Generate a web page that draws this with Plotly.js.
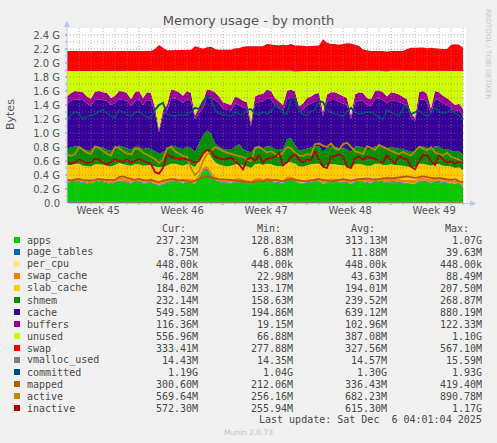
<!DOCTYPE html>
<html><head><meta charset="utf-8">
<script src="https://cdn.plot.ly/plotly-3.0.1.min.js"></script>
<style>html,body{margin:0;padding:0;background:#f0f0f0;}#chart{width:497px;height:443px;}</style>
</head><body><div id="chart"></div>
<script>
// ---- data (G units), one sample every 8 hours over the 33-day window ----
const weekLabels = ['Week 45','Week 46','Week 47','Week 48','Week 49'];
const yTickLabels = ['0.0','0.2 G','0.4 G','0.6 G','0.8 G','1.0 G','1.2 G','1.4 G','1.6 G','1.8 G','2.0 G','2.2 G','2.4 G'];
const firstWeekStartDay = 6;   // Monday of week 46, in days from window start
const samplesPerDay = 3;

const apps = [
.29,.30,.31,.30,.29,.28,.27,.30,.31,.30,
.28,.27,.29,.31,.31,.30,.28,.30,.31,.28,
.29,.29,.26,.25,.26,.28,.31,.31,.30,.28,
.30,.29,.27,.36,.45,.48,.40,.32,.30,.29,
.28,.28,.30,.30,.29,.28,.26,.30,.31,.30,
.31,.30,.29,.29,.28,.32,.33,.31,.28,.28,
.29,.30,.31,.31,.27,.29,.30,.30,.30,.29,
.29,.27,.30,.31,.30,.29,.28,.31,.31,.30,
.29,.30,.30,.29,.29,.28,.27,.27,.31,.31,
.30,.28,.31,.30,.29,.29,.28,.27,.28,.23];
const pageTables = [
.011,.011,.012,.012,.011,.011,.011,.012,.012,.011,
.011,.011,.011,.012,.012,.011,.011,.012,.012,.011,
.011,.011,.010,.009,.010,.011,.012,.012,.011,.011,
.012,.011,.010,.011,.014,.016,.013,.012,.011,.011,
.011,.011,.012,.012,.011,.011,.010,.012,.012,.011,
.012,.012,.011,.011,.011,.013,.013,.012,.011,.011,
.011,.012,.012,.012,.010,.011,.012,.012,.011,.011,
.011,.010,.012,.012,.012,.011,.011,.012,.012,.011,
.011,.012,.012,.011,.011,.011,.010,.010,.012,.012,
.011,.010,.012,.012,.011,.011,.011,.010,.010,.009];
const perCpu = [
.00043,.00043,.00043,.00043,.00043,.00043,.00043,.00043,.00043,.00043,
.00043,.00043,.00043,.00043,.00043,.00043,.00043,.00043,.00043,.00043,
.00043,.00043,.00043,.00043,.00043,.00043,.00043,.00043,.00043,.00043,
.00043,.00043,.00043,.00043,.00043,.00043,.00043,.00043,.00043,.00043,
.00043,.00043,.00043,.00043,.00043,.00043,.00043,.00043,.00043,.00043,
.00043,.00043,.00043,.00043,.00043,.00043,.00043,.00043,.00043,.00043,
.00043,.00043,.00043,.00043,.00043,.00043,.00043,.00043,.00043,.00043,
.00043,.00043,.00043,.00043,.00043,.00043,.00043,.00043,.00043,.00043,
.00043,.00043,.00043,.00043,.00043,.00043,.00043,.00043,.00043,.00043,
.00043,.00043,.00043,.00043,.00043,.00043,.00043,.00043,.00043,.00043];
const swapCache = [
.04,.04,.04,.05,.04,.04,.04,.04,.04,.05,
.04,.04,.04,.05,.04,.04,.04,.04,.04,.04,
.04,.05,.05,.06,.05,.04,.04,.04,.04,.04,
.04,.05,.05,.05,.04,.04,.04,.05,.04,.04,
.04,.04,.04,.05,.04,.04,.05,.04,.04,.04,
.04,.04,.04,.04,.04,.05,.04,.04,.04,.04,
.04,.04,.04,.04,.05,.04,.04,.04,.04,.04,
.04,.05,.04,.04,.04,.04,.04,.04,.04,.04,
.04,.04,.04,.04,.04,.04,.05,.05,.04,.04,
.04,.05,.04,.04,.04,.04,.04,.04,.04,.045];
const slabCache = [
.20,.19,.20,.20,.19,.19,.20,.20,.19,.19,
.20,.20,.20,.20,.19,.19,.20,.20,.19,.20,
.20,.19,.20,.19,.19,.20,.20,.20,.19,.20,
.20,.19,.18,.19,.20,.21,.21,.20,.20,.19,
.19,.20,.20,.20,.19,.19,.18,.20,.20,.19,
.20,.20,.19,.19,.19,.20,.20,.20,.19,.19,
.20,.20,.20,.20,.18,.20,.20,.20,.19,.20,
.19,.18,.20,.20,.19,.19,.20,.20,.20,.19,
.20,.20,.19,.20,.19,.19,.18,.18,.20,.20,
.19,.19,.20,.20,.19,.19,.19,.18,.18,.18];
const shmem = [
.24,.25,.25,.24,.24,.23,.24,.25,.25,.24,
.23,.23,.24,.25,.25,.24,.23,.25,.25,.24,
.24,.23,.22,.20,.21,.24,.26,.25,.24,.24,
.25,.24,.22,.24,.26,.29,.33,.27,.25,.24,
.24,.23,.25,.28,.24,.23,.22,.25,.25,.24,
.25,.25,.24,.24,.24,.33,.34,.27,.23,.24,
.24,.24,.25,.25,.23,.24,.25,.25,.24,.24,
.24,.22,.25,.25,.25,.24,.24,.25,.25,.24,
.24,.25,.24,.24,.24,.23,.22,.22,.25,.25,
.24,.23,.25,.25,.24,.24,.23,.23,.23,.23];
const cache = [
.639,.669,.669,.669,.699,.669,.629,.669,.679,.679,
.699,.649,.649,.659,.669,.679,.619,.659,.679,.629,
.689,.689,.539,.299,.539,.539,.679,.679,.689,.659,
.679,.679,.469,.429,.389,.469,.499,.619,.619,.579,
.569,.559,.619,.559,.589,.599,.379,.619,.629,.669,
.689,.679,.629,.579,.549,.569,.579,.649,.549,.569,
.619,.629,.639,.649,.499,.669,.669,.669,.659,.639,
.629,.469,.639,.649,.669,.629,.609,.669,.679,.689,
.639,.669,.679,.659,.649,.629,.489,.439,.659,.669,
.669,.519,.669,.669,.649,.629,.599,.579,.589,.537];
const buffers = [
.10,.11,.12,.12,.11,.10,.10,.12,.12,.11,
.11,.10,.10,.12,.12,.11,.10,.12,.12,.10,
.11,.11,.08,.04,.07,.09,.12,.12,.11,.10,
.12,.11,.05,.08,.10,.12,.12,.11,.10,.09,
.09,.08,.10,.10,.10,.09,.05,.10,.11,.11,
.12,.12,.10,.10,.09,.12,.12,.11,.08,.09,
.10,.10,.11,.11,.06,.10,.11,.11,.11,.10,
.10,.05,.11,.12,.11,.10,.10,.12,.12,.11,
.10,.11,.11,.11,.10,.10,.06,.05,.11,.12,
.11,.07,.12,.11,.11,.10,.10,.09,.09,.11];
const unused = [
.367,.317,.287,.297,.307,.367,.397,.297,.287,.307,
.317,.387,.357,.287,.297,.317,.407,.307,.287,.387,
.307,.317,.527,.837,.557,.487,.267,.277,.307,.357,
.287,.317,.637,.527,.437,.267,.277,.307,.367,.447,
.467,.487,.367,.387,.427,.447,.737,.367,.337,.327,
.267,.287,.387,.437,.487,.287,.267,.287,.507,.467,
.387,.367,.327,.317,.587,.337,.307,.307,.337,.367,
.387,.637,.337,.307,.317,.387,.407,.287,.277,.307,
.357,.307,.317,.337,.367,.407,.607,.667,.307,.287,
.327,.537,.287,.307,.357,.387,.437,.487,.467,.544];
const swap = [
.283,.283,.283,.281,.283,.283,.282,.283,.283,.283,
.283,.282,.283,.283,.283,.283,.282,.283,.283,.283,
.283,.285,.313,.373,.333,.293,.293,.293,.293,.293,
.293,.303,.353,.333,.313,.333,.343,.313,.303,.303,
.303,.303,.323,.323,.343,.353,.353,.353,.353,.353,
.383,.373,.363,.363,.373,.363,.383,.373,.363,.353,
.353,.353,.353,.363,.453,.403,.383,.383,.373,.383,
.393,.393,.373,.353,.303,.293,.283,.283,.283,.283,
.283,.283,.283,.283,.283,.313,.333,.333,.333,.333,
.323,.333,.323,.313,.313,.313,.373,.383,.373,.333];
const vmallocUsed = [
.014,.014,.014,.014,.014,.014,.014,.014,.014,.014,
.014,.014,.014,.014,.014,.014,.014,.014,.014,.014,
.014,.014,.014,.0145,.014,.014,.014,.014,.014,.014,
.014,.014,.014,.014,.0145,.015,.0145,.014,.014,.014,
.014,.014,.014,.014,.014,.014,.014,.014,.014,.014,
.014,.014,.014,.014,.014,.014,.014,.014,.014,.014,
.014,.014,.014,.014,.014,.014,.014,.014,.014,.014,
.014,.014,.014,.014,.014,.014,.014,.014,.014,.014,
.014,.014,.014,.014,.014,.014,.014,.014,.014,.014,
.014,.014,.014,.014,.014,.014,.014,.014,.014,.014];
const committed = [
1.17,1.26,1.30,1.28,1.19,1.24,1.25,1.27,1.31,1.33,
1.28,1.24,1.22,1.33,1.30,1.26,1.24,1.29,1.31,1.26,
1.23,1.22,1.33,1.40,1.43,1.27,1.25,1.24,1.26,1.25,
1.27,1.30,1.36,1.34,1.45,1.52,1.50,1.33,1.28,1.27,
1.25,1.24,1.30,1.27,1.26,1.33,1.34,1.28,1.26,1.30,
1.27,1.31,1.38,1.40,1.29,1.27,1.48,1.50,1.32,1.27,
1.25,1.31,1.33,1.46,1.44,1.33,1.30,1.27,1.26,1.24,
1.31,1.36,1.30,1.27,1.28,1.30,1.30,1.26,1.22,1.19,
1.33,1.30,1.26,1.24,1.35,1.38,1.27,1.30,1.32,1.27,
1.24,1.28,1.36,1.31,1.28,1.30,1.33,1.28,1.25,1.19];
const mapped = [
.33,.32,.33,.34,.33,.32,.32,.33,.34,.33,
.33,.32,.33,.37,.38,.36,.34,.33,.34,.33,
.32,.33,.31,.30,.32,.33,.34,.33,.32,.33,
.31,.30,.32,.35,.37,.38,.36,.35,.34,.34,
.33,.33,.32,.32,.31,.30,.29,.31,.32,.31,
.33,.32,.33,.32,.31,.33,.34,.33,.32,.32,
.31,.32,.33,.34,.33,.32,.31,.32,.33,.34,
.33,.32,.33,.34,.35,.35,.34,.33,.34,.35,
.36,.35,.36,.37,.38,.38,.37,.36,.37,.38,
.37,.36,.35,.36,.35,.34,.33,.34,.31,.30];
const active = [
.69,.67,.70,.80,.76,.72,.70,.81,.79,.74,
.70,.68,.80,.79,.74,.71,.69,.78,.77,.72,
.69,.67,.63,.57,.62,.78,.80,.74,.70,.67,
.66,.50,.40,.45,.60,.70,.74,.80,.78,.74,
.72,.70,.69,.67,.66,.62,.60,.78,.80,.76,
.72,.74,.70,.67,.72,.80,.78,.72,.68,.67,
.70,.69,.84,.85,.82,.80,.85,.78,.76,.84,
.86,.80,.74,.72,.70,.81,.79,.76,.83,.80,
.77,.74,.72,.70,.73,.70,.68,.74,.80,.78,
.75,.80,.72,.70,.68,.72,.66,.64,.62,.56];
const inactive = [
.60,.56,.58,.62,.60,.57,.58,.63,.62,.57,
.55,.58,.62,.60,.59,.62,.58,.60,.63,.60,
.58,.56,.44,.42,.50,.70,.66,.64,.63,.64,
.62,.60,.58,.60,.70,.76,.74,.66,.64,.62,
.63,.65,.60,.55,.48,.62,.65,.60,.68,.58,
.63,.64,.66,.72,.54,.58,.66,.70,.62,.58,
.62,.61,.74,.62,.52,.50,.66,.67,.70,.66,
.52,.50,.64,.66,.62,.66,.65,.63,.60,.58,
.68,.61,.57,.67,.64,.62,.52,.48,.60,.69,
.68,.60,.54,.68,.62,.58,.60,.56,.59,.57];

// legend table
const seriesNames = ['apps','page_tables','per_cpu','swap_cache','slab_cache','shmem','cache','buffers','unused','swap','vmalloc_used','committed','mapped','active','inactive'];
const curVals = ['237.23M','8.75M','448.00k','46.28M','184.02M','232.14M','549.58M','116.36M','556.96M','333.41M','14.43M','1.19G','300.60M','569.64M','572.30M'];
const minVals = ['128.83M','6.88M','448.00k','22.98M','133.17M','158.63M','194.86M','19.15M','66.88M','277.88M','14.35M','1.04G','212.06M','256.16M','255.94M'];
const avgVals = ['313.13M','11.88M','448.00k','43.63M','194.01M','239.52M','639.12M','102.96M','387.08M','327.56M','14.57M','1.30G','336.43M','682.23M','615.30M'];
const maxVals = ['1.07G','39.63M','448.00k','88.49M','207.50M','268.87M','880.19M','122.33M','1.10G','567.10M','15.59M','1.93G','419.40M','890.78M','1.17G'];
const colHeaders = ['Cur:','Min:','Avg:','Max:'];
const lastUpdate = 'Last update: Sat Dec \u00a06 04:01:04 2025';

// ---- styling ----
const colors = ['#00CC00','#0066B3','#FFE680','#FF8000','#FFCC00','#008F00','#330099','#990099','#CCFF00','#FF0000','#808080','#00487D','#B35A00','#B38F00','#B30000'];
const stacked = [apps,pageTables,perCpu,swapCache,slabCache,shmem,cache,buffers,unused,swap];
const lines = [vmallocUsed,committed,mapped,active,inactive];

const n = apps.length;
const t = [];
for (let i = 0; i < n; i++) t.push(i / samplesPerDay);
const xMax = 33.25, yMax = 2.5;

const traces = [];
stacked.forEach((arr, k) => {
  traces.push({x: t, y: arr, type: 'scatter', mode: 'lines', stackgroup: 'mem',
    line: {width: 0, color: colors[k]}, fillcolor: colors[k], name: seriesNames[k],
    showlegend: false, hoverinfo: 'skip'});
});
lines.forEach((arr, j) => {
  const k = stacked.length + j;
  traces.push({x: t, y: arr, type: 'scatter', mode: 'lines',
    line: {width: 1.8, color: colors[k]}, name: seriesNames[k],
    showlegend: false, hoverinfo: 'skip'});
});

// pixel helpers (plot area: x 67..466, y 28..203)
const L = 67, R = 466, T = 28, B = 203;
const px = x => (x - L) / (R - L);
const py = y => (B - y) / (B - T);

const gridMinor = 'rgba(143,143,143,0.55)';
const gridMajor = 'rgba(222,80,80,0.6)';
const shapes = [];
for (let k = 1; k < 25; k++) {
  shapes.push({type:'line', xref:'x', yref:'y', x0:0, x1:xMax, y0:k/10, y1:k/10, layer:'above',
    line:{color:gridMajor, width:1, dash:'1px,2px'}});
}
for (let d = 1; d < xMax; d++) {
  const isWeek = (d - firstWeekStartDay) % 7 === 0;
  shapes.push({type:'line', xref:'x', yref:'y', x0:d, x1:d, y0:0, y1:yMax, layer:'above',
    line:{color:isWeek ? gridMajor : gridMinor, width:1, dash:'1px,2px'}});
  shapes.push({type:'line', xref:'x', yref:'paper', x0:d, x1:d, y0:0, y1:-2/175, layer:'above',
    line:{color:isWeek ? '#e06060' : '#b0b0b0', width:1}});
}
for (let k = 1; k < 25; k++) {
  shapes.push({type:'line', xref:'paper', yref:'y', x0:-2/399, x1:0, y0:k/10, y1:k/10,
    line:{color:k % 2 === 0 ? '#e06060' : '#b0b0b0', width:1}});
}

// week label positions: middle of each week
const weekTicks = weekLabels.map((_, w) => firstWeekStartDay - 7 + 7 * w + 3.6);
const yTicks = yTickLabels.map((_, k) => k * 0.2);

const annotations = [];
const monoFont = {family:'DejaVu Sans Mono', size:10, color:'#4a4a4a'};
const colRight = [199, 294, 388, 483];
const headRight = [187, 282, 376, 470];
colHeaders.forEach((h, c) => annotations.push({xref:'paper', yref:'paper', x:px(headRight[c]), y:py(228.5),
  text:h, showarrow:false, xanchor:'right', yanchor:'middle', font:monoFont, borderpad:0}));
seriesNames.forEach((nm, k) => {
  const yy = 240 + 12 * k;
  shapes.push({type:'rect', xref:'paper', yref:'paper', x0:px(14), x1:px(20), y0:py(yy+3), y1:py(yy-3),
    fillcolor:colors[k], line:{width:0}});
  annotations.push({xref:'paper', yref:'paper', x:px(26), y:py(yy), text:nm, showarrow:false,
    xanchor:'left', yanchor:'middle', font:monoFont, borderpad:0});
  [curVals, minVals, avgVals, maxVals].forEach((vals, c) => annotations.push({xref:'paper', yref:'paper',
    x:px(colRight[c]), y:py(yy), text:vals[k], showarrow:false, xanchor:'right', yanchor:'middle',
    font:monoFont, borderpad:0}));
});
annotations.push({xref:'paper', yref:'paper', x:px(483), y:py(419.5), text:lastUpdate, showarrow:false,
  xanchor:'right', yanchor:'middle', font:monoFont, borderpad:0});
annotations.push({xref:'paper', yref:'paper', x:px(248.5), y:py(432), text:'Munin 2.0.73', showarrow:false,
  xanchor:'center', yanchor:'middle', font:{family:'DejaVu Sans', size:7.5, color:'#c4c4c4'}, borderpad:0});
annotations.push({xref:'paper', yref:'paper', x:px(488), y:py(54), text:'RRDTOOL / TOBI OETIKER', showarrow:false,
  textangle:90, xanchor:'center', yanchor:'middle', font:{family:'DejaVu Sans', size:7, color:'#c8c8c8'}, borderpad:0});
annotations.push({xref:'paper', yref:'paper', x:px(10), y:py(115), text:'Bytes', showarrow:false,
  textangle:-90, xanchor:'center', yanchor:'middle', font:{family:'DejaVu Sans', size:11, color:'#555'}, borderpad:0});
// axis arrows
annotations.push({xref:'paper', yref:'paper', x:px(67), y:py(21), ax:0, ay:183, axref:'pixel', ayref:'pixel',
  text:'', showarrow:true, arrowhead:2, arrowsize:1.2, arrowwidth:1, arrowcolor:'#b8c6f2'});
annotations.push({xref:'paper', yref:'paper', x:px(476), y:py(203.5), ax:-409, ay:0, axref:'pixel', ayref:'pixel',
  text:'', showarrow:true, arrowhead:2, arrowsize:1.2, arrowwidth:1, arrowcolor:'#b8c6f2'});

const layout = {
  width: 497, height: 443,
  paper_bgcolor: '#f0f0f0', plot_bgcolor: '#ffffff',
  margin: {l: L, r: 497 - R, t: T, b: 443 - B, pad: 0},
  font: {family: 'DejaVu Sans', size: 10, color: '#555'},
  title: {text: 'Memory usage - by month', font: {family:'DejaVu Sans', size: 13, color: '#555'},
    xref: 'container', x: 0.5, xanchor: 'center', yref: 'container', y: 1 - 20/443, yanchor: 'middle'},
  xaxis: {range: [0, xMax], tickmode: 'array', tickvals: weekTicks, ticktext: weekLabels,
    ticks: '', showgrid: false, zeroline: false, showline: false, fixedrange: true,
    tickfont: {size: 10, color: '#555'}},
  yaxis: {range: [0, yMax], tickmode: 'array', tickvals: yTicks, ticktext: yTickLabels,
    ticks: 'outside', ticklen: 4, tickcolor: 'rgba(0,0,0,0)', showgrid: false, zeroline: false,
    showline: false, fixedrange: true, tickfont: {size: 10, color: '#555'}},
  shapes: shapes,
  annotations: annotations,
  showlegend: false
};

Plotly.newPlot('chart', traces, layout, {staticPlot: true, displayModeBar: false});
</script>
</body></html>
